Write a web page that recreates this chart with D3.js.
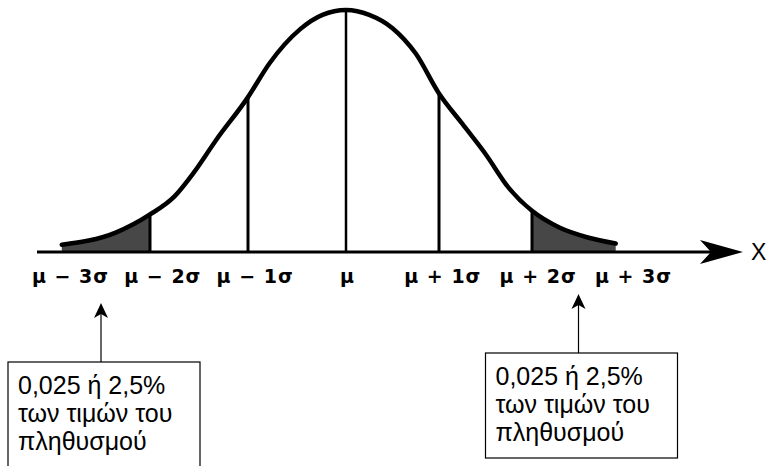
<!DOCTYPE html>
<html>
<head>
<meta charset="utf-8">
<script src="https://cdn.jsdelivr.net/npm/d3@7"></script>
<style>
  body { margin: 0; background: #fff; }
  svg { display: block; }
  .tick-label { font-family: "DejaVu Sans", sans-serif; font-weight: bold; font-size: 19px; letter-spacing: 1px; }
  .axis-name { font-family: "Liberation Sans", Arial, sans-serif; font-size: 23px; }
  .note { font-family: "Liberation Sans", Arial, sans-serif; font-size: 25px; }
</style>
</head>
<body>
<div id="chart"></div>
<script>
// curve: position in sigma units, height relative to the peak
const curveZ = [-2.9, -2.35, -2.0, -1.75, -1.55, -1.33, -1.0, -0.78, -0.47, -0.24, 0,
                0.25, 0.5, 0.75, 1.0, 1.25, 1.5, 1.75, 2.0, 2.3, 2.6, 2.9];
const curveH = [0.03, 0.08, 0.155, 0.23, 0.33, 0.46, 0.64, 0.78, 0.92, 0.98, 1,
                0.98, 0.925, 0.82, 0.655, 0.53, 0.405, 0.265, 0.17, 0.1, 0.06, 0.035];

// vertical lines under the curve
const markZ = [-2, -1, 0, 1, 2];

// axis labels
const tickZ = [-3, -2, -1, 0, 1, 2, 3];
const tickLabels = ["μ − 3σ", "μ − 2σ", "μ − 1σ", "μ", "μ + 1σ", "μ + 2σ", "μ + 3σ"];

// the two callouts
const noteZ = [-2.5, 2.5];
const noteTop = [362, 353];
const noteLines = ["0,025 ή 2,5%", "των τιμών του", "πληθυσμού"];

const width = 769, height = 466;

const svg = d3.select("#chart")
  .append("svg")
  .attr("width", width)
  .attr("height", height);

// x in sigma units (the drawing is slightly wider on the left)
const x = d3.scaleLinear().domain([-3, 0, 3]).range([52, 346, 625]);
const y = d3.scaleLinear().domain([0, 1]).range([252, 10]);
// label row is spaced a bit differently from the lines
const xLabel = d3.scaleLinear().domain([-3, 0, 3]).range([70, 347, 633]);

const pts = curveZ.map((z, i) => ({ z, h: curveH[i] }));

// shaded tails
const area = d3.area()
  .x(d => x(d.z))
  .y0(y(0))
  .y1(d => y(d.h))
  .curve(d3.curveMonotoneX);

svg.append("path")
  .datum(pts.filter(d => d.z <= -2))
  .attr("d", area)
  .attr("fill", "#474747");

svg.append("path")
  .datum(pts.filter(d => d.z >= 2))
  .attr("d", area)
  .attr("fill", "#474747");

// vertical lines at mu and +-1, +-2 sigma
svg.selectAll(".mark")
  .data(markZ)
  .enter()
  .append("line")
  .attr("class", "mark")
  .attr("x1", d => x(d))
  .attr("x2", d => x(d))
  .attr("y1", y(0))
  .attr("y2", d => y(curveH[curveZ.indexOf(d)]))
  .attr("stroke", "#000")
  .attr("stroke-width", d => d === 0 ? 2.5 : 3);

// the curve itself
const line = d3.line()
  .x(d => x(d.z))
  .y(d => y(d.h))
  .curve(d3.curveMonotoneX);

svg.append("path")
  .datum(pts)
  .attr("d", line)
  .attr("fill", "none")
  .attr("stroke", "#000")
  .attr("stroke-width", 4.5)
  .attr("stroke-linecap", "round");

// horizontal axis with arrow
const axisY = y(0);
svg.append("line")
  .attr("x1", 37)
  .attr("x2", 712)
  .attr("y1", axisY)
  .attr("y2", axisY)
  .attr("stroke", "#000")
  .attr("stroke-width", 3);

svg.append("path")
  .attr("d", `M743,${axisY} L700,${axisY - 12} L711,${axisY} L700,${axisY + 12} Z`)
  .attr("fill", "#000");

svg.append("text")
  .attr("class", "axis-name")
  .attr("x", 751)
  .attr("y", axisY + 8)
  .text("X");

svg.selectAll(".tick-label")
  .data(tickZ)
  .enter()
  .append("text")
  .attr("class", "tick-label")
  .attr("text-anchor", "middle")
  .attr("x", d => xLabel(d) + 0.5)
  .attr("y", 283)
  .text((d, i) => tickLabels[i]);

// callouts: box + arrow pointing up at the tail
noteZ.forEach((z, i) => {
  const ax = x(z);
  const top = noteTop[i];
  const tipY = top - 59;
  const g = svg.append("g");

  g.append("line")
    .attr("x1", ax).attr("x2", ax)
    .attr("y1", tipY + 8).attr("y2", top)
    .attr("stroke", "#000")
    .attr("stroke-width", 1.2);

  g.append("path")
    .attr("d", `M${ax},${tipY} L${ax - 7},${tipY + 15} L${ax},${tipY + 11} L${ax + 7},${tipY + 15} Z`)
    .attr("fill", "#000");

  g.append("rect")
    .attr("x", ax - 93)
    .attr("y", top)
    .attr("width", 192)
    .attr("height", 105)
    .attr("fill", "#fff")
    .attr("stroke", "#000")
    .attr("stroke-width", 1.2);

  g.selectAll("text")
    .data(noteLines)
    .enter()
    .append("text")
    .attr("class", "note")
    .attr("x", ax - 83)
    .attr("y", (d, j) => top + 32 + j * 28)
    .text(d => d);
});
</script>
</body>
</html>
